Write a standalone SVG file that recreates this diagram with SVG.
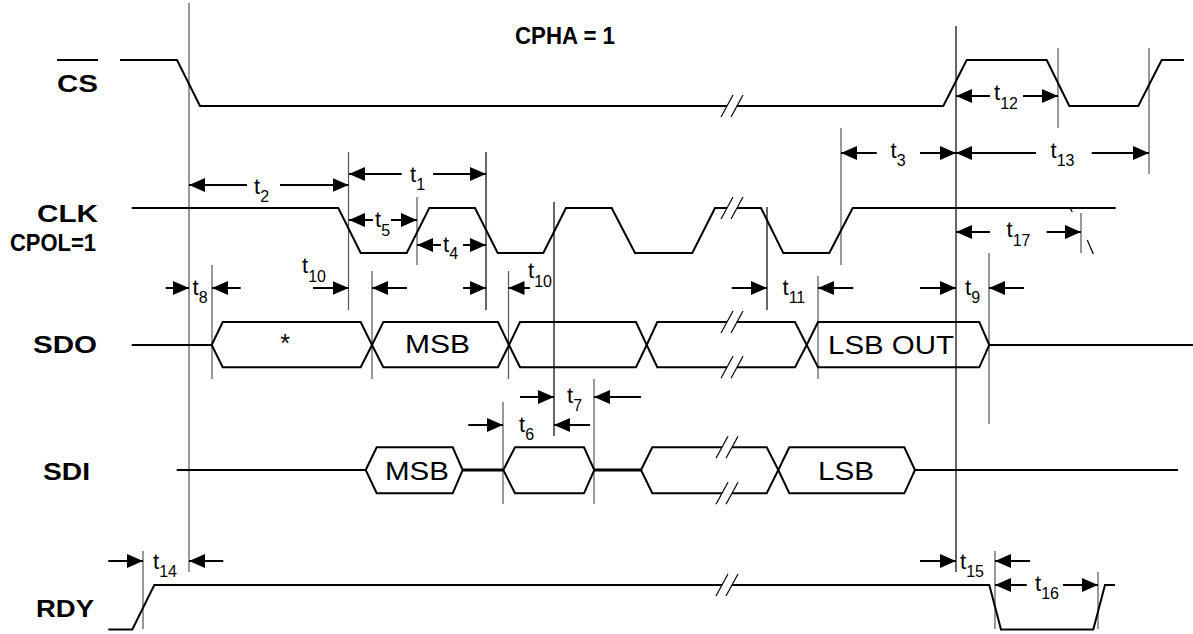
<svg xmlns="http://www.w3.org/2000/svg" xmlns:xlink="http://www.w3.org/1999/xlink" width="1193" height="634" viewBox="0 0 1193 634">
<style>
.sig{fill:none;stroke:#000;stroke-width:2;stroke-linejoin:miter}
.bus{fill:none;stroke:#000;stroke-width:2}
.thick{stroke:#000;stroke-width:3}
.guide{stroke:#555;stroke-width:1.2}
.guideb{stroke:#000;stroke-width:1.2}
.arr{stroke:#000;stroke-width:2;marker-end:url(#ah)}
.lbl{font-family:"Liberation Sans",Arial,sans-serif;font-weight:bold;font-size:24px;fill:#000}
.txt{font-family:"Liberation Sans",Arial,sans-serif;font-size:25px;fill:#000}
.t{font-family:"Liberation Sans",Arial,sans-serif;font-size:22px;fill:#000}
.s{font-size:16px}
.brk line{stroke:#000;stroke-width:1.2}
</style>
<defs>
<marker id="ah" markerUnits="userSpaceOnUse" markerWidth="16" markerHeight="14" refX="16" refY="7" orient="auto">
<path d="M0,0 L16,7 L0,14 Z" fill="#000"/>
</marker>
<g id="brk" class="brk">
<polygon points="-11,11 1,-11 11,-11 -1,11" fill="#fff"/>
<line x1="-11" y1="11" x2="1" y2="-11"/>
<line x1="-1" y1="11" x2="11" y2="-11"/>
</g>
</defs>
<rect width="1193" height="634" fill="#fff"/>

<g id="guides">
<line class="guide" x1="189" y1="3" x2="189" y2="572"/>
<line class="guide" x1="348.5" y1="152" x2="348.5" y2="310"/>
<line class="guide" x1="417" y1="197" x2="417" y2="265"/>
<line class="guideb" x1="486" y1="152" x2="486" y2="310"/>
<line class="guide" x1="508.5" y1="271" x2="508.5" y2="379"/>
<line class="guideb" x1="554" y1="202" x2="554" y2="436"/>
<line class="guide" x1="594" y1="379" x2="594" y2="504"/>
<line class="guide" x1="503" y1="402" x2="503" y2="504"/>
<line class="guideb" x1="767" y1="207" x2="767" y2="310"/>
<line class="guide" x1="818" y1="276" x2="818" y2="379"/>
<line class="guide" x1="841" y1="128" x2="841" y2="265"/>
<line class="guideb" x1="956" y1="26" x2="956" y2="572"/>
<line class="guide" x1="1058" y1="48" x2="1058" y2="128"/>
<line class="guide" x1="1149" y1="48" x2="1149" y2="174"/>
<line class="guide" x1="1081" y1="213" x2="1081" y2="253"/>
<line class="guide" x1="989" y1="253" x2="989" y2="424"/>
<line class="guide" x1="995" y1="551" x2="995" y2="629"/>
<line class="guide" x1="1098" y1="572" x2="1098" y2="629"/>
<line class="guide" x1="143" y1="551" x2="143" y2="629"/>
<line class="guide" x1="212" y1="265" x2="212" y2="379"/>
<line class="guide" x1="372" y1="271" x2="372" y2="379"/>
<line x1="1070" y1="208" x2="1072.3" y2="212" stroke="#000" stroke-width="1.2"/>
<line x1="1087.3" y1="240" x2="1093.3" y2="254" stroke="#000" stroke-width="1.2"/>
</g>

<text class="lbl" x="515" y="44" font-size="19" textLength="100" lengthAdjust="spacingAndGlyphs">CPHA = 1</text>

<g id="cs">
<line x1="57" y1="60" x2="98" y2="60" stroke="#000" stroke-width="2"/>
<text class="lbl" x="57" y="92" textLength="41" lengthAdjust="spacingAndGlyphs">CS</text>
<polyline class="sig" points="120,60 177,60 200,106 943.3,106 966.7,60 1046.7,60 1069.3,106 1138.3,106 1161.7,60 1184,60"/>
<use xlink:href="#brk" x="732" y="106"/>
</g>

<g id="clk">
<text class="lbl" x="37" y="222" textLength="61" lengthAdjust="spacingAndGlyphs">CLK</text>
<text class="lbl" x="10" y="251" font-size="17" textLength="86" lengthAdjust="spacingAndGlyphs">CPOL=1</text>
<polyline class="sig" points="131.7,208 338.3,208 360.7,253 406.7,253 429.3,208 475,208 497.7,253 543.3,253 566,208 611.7,208 635,253 692.3,253 715,208 761,208 783.3,253 829.3,253 852.7,208 1115.7,208"/>
<use xlink:href="#brk" x="732" y="208"/>
</g>

<g id="sdo">
<text class="lbl" x="33" y="353" textLength="64" lengthAdjust="spacingAndGlyphs">SDO</text>
<line class="sig" x1="131.7" y1="345" x2="211.7" y2="345"/>
<path class="bus" d="M211.7,345 L222.7,322 L360.7,322 L372,345 L360.7,367.3 L222.7,367.3 Z"/>
<path class="bus" d="M372,345 L383.3,322 L498,322 L509,345 L498,367.3 L383.3,367.3 Z"/>
<path class="bus" d="M509,345 L520,322 L636,322 L646.7,345 L636,367.3 L520,367.3 Z"/>
<path class="bus" d="M646.7,345 L657.3,322 L795,322 L806.7,345 L795,367.3 L657.3,367.3 Z"/>
<path class="bus" d="M806.7,345 L818,322 L979.3,322 L989.3,345 L979.3,367.3 L818,367.3 Z"/>
<line class="sig" x1="989.3" y1="345" x2="1193" y2="345"/>
<use xlink:href="#brk" x="732" y="322"/>
<use xlink:href="#brk" x="732" y="367.3"/>
<text class="txt" x="285" y="352" font-size="27" text-anchor="middle">*</text>
<text class="txt" x="405" y="353" textLength="65" lengthAdjust="spacingAndGlyphs">MSB</text>
<text class="txt" x="828" y="354" textLength="126" lengthAdjust="spacingAndGlyphs">LSB OUT</text>
</g>

<g id="sdi">
<text class="lbl" x="43" y="480" textLength="47" lengthAdjust="spacingAndGlyphs">SDI</text>
<line class="sig" x1="176.7" y1="470" x2="365.7" y2="470"/>
<path class="bus" d="M365.7,470 L376.7,447.3 L452.7,447.3 L462.7,470 L452.7,493.3 L376.7,493.3 Z"/>
<line class="thick" x1="462.7" y1="470" x2="503.3" y2="470"/>
<path class="bus" d="M503.3,470 L515,447.3 L584,447.3 L594.3,470 L584,493.3 L515,493.3 Z"/>
<line class="thick" x1="594.3" y1="470" x2="641" y2="470"/>
<path class="bus" d="M641,470 L652.3,447.3 L766.7,447.3 L778.3,470 L766.7,493.3 L652.3,493.3 Z"/>
<path class="bus" d="M778.3,470 L789.3,447.3 L904.3,447.3 L915,470 L904.3,493.3 L789.3,493.3 Z"/>
<line class="sig" x1="915" y1="470" x2="1178" y2="470"/>
<use xlink:href="#brk" x="727" y="447.3"/>
<use xlink:href="#brk" x="727" y="493.3"/>
<text class="txt" x="385" y="480" textLength="64" lengthAdjust="spacingAndGlyphs">MSB</text>
<text class="txt" x="818" y="480" textLength="56" lengthAdjust="spacingAndGlyphs">LSB</text>
</g>

<g id="rdy">
<text class="lbl" x="36" y="617" textLength="58" lengthAdjust="spacingAndGlyphs">RDY</text>
<polyline class="sig" points="108.3,629.5 132.3,629.5 154.3,585 989.3,585 1001,629.5 1093.3,629.5 1105,585 1115,585"/>
<use xlink:href="#brk" x="727" y="585"/>
</g>

<g id="connectors">
<line class="arr" x1="247" y1="185" x2="189" y2="185"/>
<line class="arr" x1="280" y1="185" x2="348.5" y2="185"/>
<line class="arr" x1="401.7" y1="174" x2="349" y2="174"/>
<line class="arr" x1="433" y1="174" x2="486" y2="174"/>
<line class="arr" x1="373" y1="220" x2="349" y2="220"/>
<line class="arr" x1="391" y1="220" x2="417" y2="220"/>
<line class="arr" x1="441" y1="245" x2="417" y2="245"/>
<line class="arr" x1="463" y1="245" x2="486" y2="245"/>
<line class="arr" x1="313" y1="288" x2="348.5" y2="288"/>
<line class="arr" x1="407" y1="288" x2="372" y2="288"/>
<line class="arr" x1="463" y1="288" x2="486" y2="288"/>
<line class="arr" x1="530" y1="288" x2="508.5" y2="288"/>
<line class="arr" x1="165.7" y1="288" x2="189" y2="288"/>
<line class="arr" x1="240.7" y1="288" x2="212" y2="288"/>
<line class="arr" x1="731.7" y1="288" x2="767" y2="288"/>
<line class="arr" x1="853.3" y1="288" x2="818" y2="288"/>
<line class="arr" x1="920" y1="288" x2="956" y2="288"/>
<line class="arr" x1="1024" y1="288" x2="989" y2="288"/>
<line class="arr" x1="990" y1="232" x2="956" y2="232"/>
<line class="arr" x1="1046.7" y1="232" x2="1081" y2="232"/>
<line class="arr" x1="876.7" y1="153" x2="841" y2="153"/>
<line class="arr" x1="920" y1="153" x2="956" y2="153"/>
<line class="arr" x1="1036" y1="153" x2="956" y2="153"/>
<line class="arr" x1="1091.7" y1="153" x2="1149" y2="153"/>
<line class="arr" x1="990" y1="96" x2="956" y2="96"/>
<line class="arr" x1="1023" y1="96" x2="1058" y2="96"/>
<line class="arr" x1="520" y1="397" x2="554" y2="397"/>
<line class="arr" x1="641" y1="397" x2="594" y2="397"/>
<line class="arr" x1="468.3" y1="425" x2="503" y2="425"/>
<line class="arr" x1="590" y1="425" x2="554" y2="425"/>
<line class="arr" x1="108.3" y1="561" x2="143" y2="561"/>
<line class="arr" x1="223.3" y1="561" x2="189" y2="561"/>
<line class="arr" x1="920" y1="561" x2="956" y2="561"/>
<line class="arr" x1="1030" y1="561" x2="995" y2="561"/>
<line class="arr" x1="1026.7" y1="585" x2="995" y2="585"/>
<line class="arr" x1="1063" y1="585" x2="1098" y2="585"/>
</g>

<g id="labels">
<text class="t" x="254" y="194">t<tspan class="s" dy="8">2</tspan></text>
<text class="t" x="410" y="182">t<tspan class="s" dy="8">1</tspan></text>
<text class="t" x="375" y="227">t<tspan class="s" dy="9">5</tspan></text>
<text class="t" x="443" y="252">t<tspan class="s" dy="7">4</tspan></text>
<text class="t" x="302" y="273">t<tspan class="s" dy="9">10</tspan></text>
<text class="t" x="528" y="278">t<tspan class="s" dy="9">10</tspan></text>
<text class="t" x="192.5" y="295">t<tspan class="s" dy="8">8</tspan></text>
<text class="t" x="782.5" y="295">t<tspan class="s" dy="8">11</tspan></text>
<text class="t" x="965" y="295">t<tspan class="s" dy="8">9</tspan></text>
<text class="t" x="1006.5" y="237">t<tspan class="s" dy="9">17</tspan></text>
<text class="t" x="890.5" y="158">t<tspan class="s" dy="8">3</tspan></text>
<text class="t" x="1050.5" y="158">t<tspan class="s" dy="8">13</tspan></text>
<text class="t" x="994" y="100">t<tspan class="s" dy="9">12</tspan></text>
<text class="t" x="567" y="403">t<tspan class="s" dy="8">7</tspan></text>
<text class="t" x="519" y="432">t<tspan class="s" dy="8">6</tspan></text>
<text class="t" x="153" y="569">t<tspan class="s" dy="8">14</tspan></text>
<text class="t" x="960" y="569">t<tspan class="s" dy="8">15</tspan></text>
<text class="t" x="1035" y="591">t<tspan class="s" dy="8">16</tspan></text>
</g>
</svg>
